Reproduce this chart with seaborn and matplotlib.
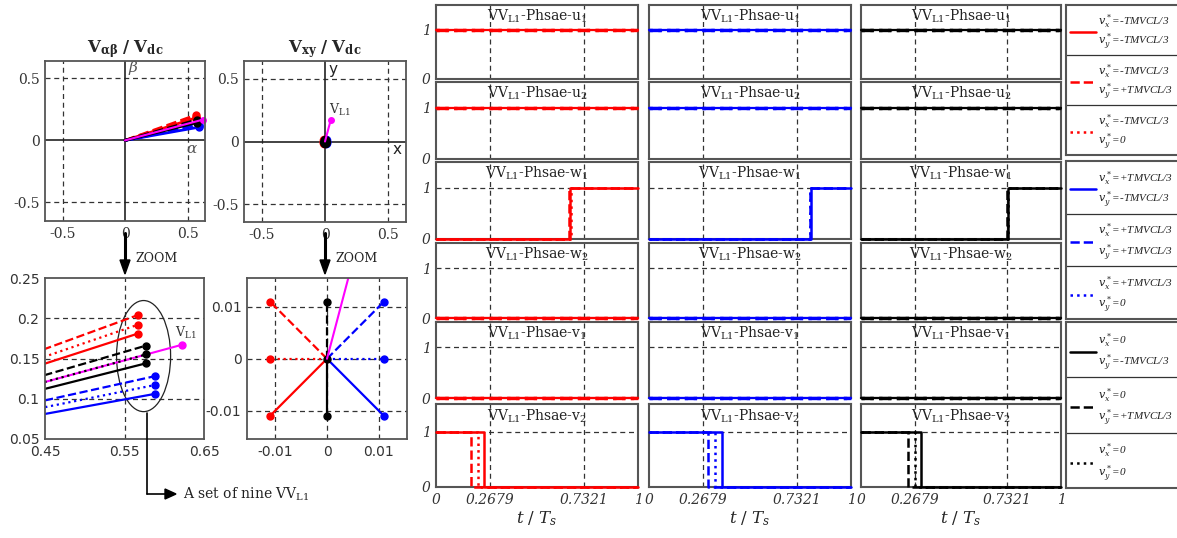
import matplotlib
matplotlib.use('Agg')
import matplotlib.pyplot as plt
from matplotlib.patches import Ellipse
import seaborn as sns

# ---- data ----
group_colors = ['red', 'blue', 'black']          # v_x* = -, +, 0
vy_styles = ['-', '--', ':']                     # v_y* = -, +, 0
vx_labels = ['-TMVCL/3', '+TMVCL/3', '0']
vy_labels = ['-TMVCL/3', '+TMVCL/3', '0']

alpha_end = [[0.567, 0.567, 0.567], [0.588, 0.588, 0.588], [0.577, 0.577, 0.577]]
beta_end = [[0.181, 0.204, 0.192], [0.106, 0.128, 0.117], [0.144, 0.166, 0.155]]
x_end = [-0.011, 0.011, 0.0]
y_end = [-0.011, 0.011, 0.0]
vl1_ab = [0.622, 0.167]
vl1_xy = [0.045, 0.17]

phases = ['u', 'u', 'w', 'w', 'v', 'v']
phase_idx = ['1', '2', '1', '2', '1', '2']
w1_on = [[0.665, 0.660, 0.668], [0.800, 0.795, 0.798], [0.735, 0.731, 0.733]]
v2_off = [[0.238, 0.173, 0.208], [0.360, 0.292, 0.325], [0.300, 0.237, 0.272]]
t_ticks = [0, 0.2679, 0.7321, 1]
t_labels = ['0', '0.2679', '0.7321', '1']

W, H = 1177, 538


def box(x0, y0, x1, y1):
    return [x0 / W, 1 - y1 / H, (x1 - x0) / W, (y1 - y0) / H]


def fp(x, y):
    return (x / W, 1 - y / H)


sns.set_theme(style='white')
plt.rcParams['font.family'] = ['DejaVu Serif']
plt.rcParams['mathtext.fontset'] = 'dejavuserif'

fig = plt.figure(figsize=(W / 100, H / 100), dpi=100)

SP = '#555555'


def frame(ax, lw=1.3):
    for s in ax.spines.values():
        s.set_color(SP)
        s.set_linewidth(lw)
        s.set_visible(True)
    ax.tick_params(length=0, pad=4)


def dashed_grid(ax, xs, ys):
    for x in xs:
        ax.axvline(x, color='#333333', lw=0.9, dashes=(4, 3), zorder=1)
    for y in ys:
        ax.axhline(y, color='#333333', lw=0.9, dashes=(4, 3), zorder=1)


# ---- top left: alpha-beta plane ----
ax1 = fig.add_axes(box(45, 61, 205, 221))
frame(ax1)
dashed_grid(ax1, [-0.5, 0.5], [-0.5, 0.5])
ax1.axhline(0, color='#222222', lw=1.2)
ax1.axvline(0, color='#222222', lw=1.2)
for g in range(3):
    for k in range(3):
        sns.lineplot(x=[0, alpha_end[g][k]], y=[0, beta_end[g][k]], ax=ax1, color=group_colors[g],
                     linestyle=vy_styles[k], lw=2, estimator=None, sort=False)
        ax1.plot(alpha_end[g][k], beta_end[g][k], 'o', color=group_colors[g], ms=5)
ax1.plot([0, vl1_ab[0]], [0, vl1_ab[1]], color='magenta', lw=1.5)
ax1.plot(vl1_ab[0], vl1_ab[1], 'o', color='magenta', ms=4, clip_on=False)
ax1.set_xlim(-0.64, 0.64)
ax1.set_ylim(-0.65, 0.64)
ax1.set_xticks([-0.5, 0, 0.5])
ax1.set_yticks([-0.5, 0, 0.5])
ax1.set_xticklabels(['-0.5', '0', '0.5'], fontsize=10, color='#333333')
ax1.set_yticklabels(['-0.5', '0', '0.5'], fontsize=10, color='#333333')
ax1.text(0.02, 0.55, r'$\beta$', fontsize=11, color='#555555')
ax1.text(0.49, -0.1, r'$\alpha$', fontsize=11, color='#555555')
ax1.set_title(r'$\mathbf{V_{\alpha\beta}\ /\ V_{dc}}$', fontsize=12, pad=6)

# ---- top right: x-y plane ----
ax2 = fig.add_axes(box(244, 61, 406, 222))
frame(ax2)
dashed_grid(ax2, [-0.5, 0.5], [-0.5, 0.5])
ax2.axhline(0, color='#222222', lw=1.2)
ax2.axvline(0, color='#222222', lw=1.2)
for g in range(3):
    for k in range(3):
        ax2.plot([0, x_end[g]], [0, y_end[k]], color=group_colors[g], ls=vy_styles[k], lw=2)
        ax2.plot(x_end[g], y_end[k], 'o', color=group_colors[g], ms=6)
ax2.plot(0, 0, 'o', color='black', ms=7)
ax2.plot([0, vl1_xy[0]], [0, vl1_xy[1]], color='magenta', lw=1.5)
ax2.plot(vl1_xy[0], vl1_xy[1], 'o', color='magenta', ms=4)
ax2.set_xlim(-0.64, 0.64)
ax2.set_ylim(-0.64, 0.64)
ax2.set_xticks([-0.5, 0, 0.5])
ax2.set_yticks([-0.5, 0, 0.5])
ax2.set_xticklabels(['-0.5', '0', '0.5'], fontsize=10, color='#333333')
ax2.set_yticklabels(['-0.5', '0', '0.5'], fontsize=10, color='#333333')
ax2.text(0.03, 0.54, 'y', fontsize=11, family='DejaVu Sans', color='#222222')
ax2.text(0.53, -0.1, 'x', fontsize=11, family='DejaVu Sans', color='#222222')
ax2.text(0.035, 0.22, r'V$_{\mathrm{L1}}$', fontsize=9, color='#333333')
ax2.set_title(r'$\mathbf{V_{xy}\ /\ V_{dc}}$', fontsize=12, pad=6)

# ---- bottom left: zoom of alpha-beta ----
ax3 = fig.add_axes(box(45, 278, 204, 439))
frame(ax3)
dashed_grid(ax3, [0.55], [0.1, 0.15, 0.2])
for g in range(3):
    for k in range(3):
        ax3.plot([0, alpha_end[g][k]], [0, beta_end[g][k]], color=group_colors[g],
                 ls=vy_styles[k], lw=1.6)
        ax3.plot(alpha_end[g][k], beta_end[g][k], 'o', color=group_colors[g], ms=5)
ax3.plot([0, vl1_ab[0]], [0, vl1_ab[1]], color='magenta', lw=1.5, zorder=1.5)
ax3.plot(vl1_ab[0], vl1_ab[1], 'o', color='magenta', ms=5)
ax3.add_patch(Ellipse((0.574, 0.153), 0.068, 0.138, fill=False, ec='#222222', lw=0.9))
ax3.text(0.613, 0.177, r'V$_{\mathrm{L1}}$', fontsize=9, color='#333333')
ax3.set_xlim(0.45, 0.65)
ax3.set_ylim(0.05, 0.25)
ax3.set_xticks([0.45, 0.55, 0.65])
ax3.set_yticks([0.05, 0.1, 0.15, 0.2, 0.25])
ax3.set_xticklabels(['0.45', '0.55', '0.65'], fontsize=10, family='DejaVu Sans', color='#333333')
ax3.set_yticklabels(['0.05', '0.1', '0.15', '0.2', '0.25'], fontsize=10, family='DejaVu Sans',
                    color='#333333')

# ---- bottom right: zoom of x-y ----
ax4 = fig.add_axes(box(247, 278, 407, 439))
frame(ax4)
dashed_grid(ax4, [-0.01, 0, 0.01], [-0.01, 0, 0.01])
for g in range(3):
    for k in range(3):
        ax4.plot([0, x_end[g]], [0, y_end[k]], color=group_colors[g], ls=vy_styles[k], lw=1.6)
        ax4.plot(x_end[g], y_end[k], 'o', color=group_colors[g], ms=5)
ax4.plot([0, vl1_xy[0] * 0.1], [0, vl1_xy[1] * 0.1], color='magenta', lw=1.5)
ax4.set_xlim(-0.0155, 0.0155)
ax4.set_ylim(-0.0155, 0.0156)
ax4.set_xticks([-0.01, 0, 0.01])
ax4.set_yticks([-0.01, 0, 0.01])
ax4.set_xticklabels(['-0.01', '0', '0.01'], fontsize=10, family='DejaVu Sans', color='#333333')
ax4.set_yticklabels(['-0.01', '0', '0.01'], fontsize=10, family='DejaVu Sans', color='#333333')

# ---- zoom arrows and annotation ----
for xa in (125, 325):
    fig.add_artist(plt.Line2D([xa / W, xa / W], [1 - 233 / H, 1 - 262 / H], color='black', lw=2.2))
    fig.patches.append(plt.Polygon([fp(xa - 5, 260), fp(xa + 5, 260), fp(xa, 274)],
                                   closed=True, color='black', transform=fig.transFigure))
    fig.text((xa + 10) / W, 1 - 259 / H, 'ZOOM', fontsize=9, va='center', color='#222222')
fig.add_artist(plt.Line2D([147 / W, 147 / W], [1 - 413 / H, 1 - 494 / H], color='black', lw=1.2))
fig.add_artist(plt.Line2D([147 / W, 166 / W], [1 - 494 / H, 1 - 494 / H], color='black', lw=1.2))
fig.patches.append(plt.Polygon([fp(165, 489), fp(165, 499), fp(176, 494)], closed=True,
                               color='black', transform=fig.transFigure))
fig.text(183 / W, 1 - 494 / H, r'A set of nine VV$_{\mathrm{L1}}$', fontsize=10, va='center',
         color='#222222')

# ---- switching signals ----
cols = [(436, 638), (649, 851), (861, 1061)]
rows = [(5, 79), (82, 159), (162, 239), (243, 318), (322, 398), (404, 487)]

for c, (x0, x1) in enumerate(cols):
    for r, (y0, y1) in enumerate(rows):
        ax = fig.add_axes(box(x0, y0, x1, y1))
        frame(ax, lw=1.5)
        dashed_grid(ax, [0.2679, 0.7321], [1])
        for k in range(3):
            if r in (0, 1):
                t, s = [0, 1], [1, 1]
            elif r in (3, 4):
                t, s = [0, 1], [0, 0]
            elif r == 2:
                t, s = [0, w1_on[c][k], 1], [0, 1, 1]
            else:
                t, s = [0, v2_off[c][k], 1], [1, 0, 0]
            lw = 1.6 if vy_styles[k] == '-' else 2.4
            if r == 2 or r == 5:
                lw = 1.8
            sns.lineplot(x=t, y=s, ax=ax, color=group_colors[c], linestyle=vy_styles[k], lw=lw,
                         drawstyle='steps-post', estimator=None, sort=False, clip_on=False,
                         zorder=3)
        ax.set_xlim(0, 1)
        ax.set_ylim(0, 1.5)
        ax.text(0.5, 1.28, r'VV$_{\mathrm{L1}}$-Phsae-' + phases[r] + r'$_{\mathrm{' + phase_idx[r] + '}}$',
                ha='center', va='center', fontsize=10, color='#222222')
        ax.set_xticks(t_ticks)
        ax.set_yticks([0, 1])
        ax.set_xlabel('')
        ax.set_ylabel('')
        if c == 0:
            ax.set_yticklabels(['0', '1'], fontsize=10, style='italic', color='#333333')
        else:
            ax.set_yticklabels([])
        if r == 5:
            ax.set_xticklabels(t_labels, fontsize=10, style='italic', color='#333333')
            ax.set_xlabel(r'$t\ /\ T_s$', fontsize=12, labelpad=2)
        else:
            ax.set_xticklabels([])

# ---- legend boxes ----
legend_boxes = [(5, 155), (161, 319), (322, 488)]
for g, (y0, y1) in enumerate(legend_boxes):
    lax = fig.add_axes(box(1066, y0, 1183, y1))
    frame(lax, lw=1.5)
    lax.set_xticks([])
    lax.set_yticks([])
    lax.set_xlim(0, 1)
    lax.set_ylim(3, 0)
    for k in range(3):
        lax.plot([0.03, 0.26], [k + 0.54, k + 0.54], color=group_colors[g], ls=vy_styles[k],
                 lw=1.8)
        lax.text(0.275, k + 0.32, r'$v_x^*$=' + vx_labels[g], fontsize=8, style='italic',
                 family='Liberation Serif', va='center', color='#222222')
        lax.text(0.275, k + 0.74, r'$v_y^*$=' + vy_labels[k], fontsize=8, style='italic',
                 family='Liberation Serif', va='center', color='#222222')
        if k < 2:
            lax.axhline(k + 1, color='#333333', lw=0.9)

fig.savefig('out.png', dpi=100)
